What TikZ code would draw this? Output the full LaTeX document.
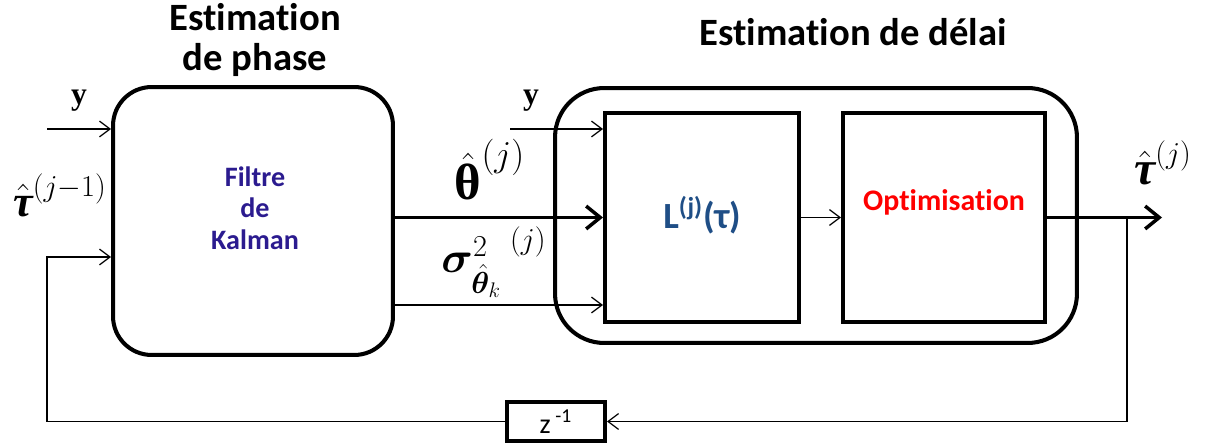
\documentclass[tikz,border=0pt]{standalone}
\usepackage{amsmath}
\usepackage{amssymb}
\usepackage{bm}
\usepackage{fontspec}
\newfontfamily\calib[Ligatures=NoCommon]{Carlito}
\newfontfamily\tnr{Liberation Serif}
\usetikzlibrary{arrows.meta}

\definecolor{kalblue}{HTML}{2B1B8F}
\definecolor{lblue}{HTML}{1F4E86}

\newcommand{\tauhat}{\boldsymbol{\hat{\text{\tnr\bfseries\itshape τ}}}}
\newcommand{\thetahat}{\boldsymbol{\hat{\text{\tnr\bfseries θ}}}}

\begin{document}
\begin{tikzpicture}[x=0.02cm, y=-0.02cm,
  blockbox/.style={draw, line width=2.3pt, inner sep=0pt},
  thinarrow/.style={line width=0.7pt, -{Straight Barb[length=6pt, width=9pt]}},
  fatarrow/.style={line width=2pt, -{Straight Barb[length=8pt, width=13pt, line width=2pt]}},
  titletext/.style={font=\calib\bfseries\fontsize{22}{26}\selectfont, align=center},
  mathlabel/.style={inner sep=0pt}]
\useasboundingbox (0,0) rectangle (1214,446);

% titles
\node[titletext] (phase) at (255,40) {Estimation\\[-3pt]de phase};
\node[titletext] (delai) at (853,32) {Estimation de délai};

% blocks
\node[blockbox, rounded corners=22pt, minimum width=5.6cm, minimum height=5.36cm] (kalman) at (253,221) {};
\node[font=\calib\bfseries\fontsize{16}{18}\selectfont, text=kalblue, align=center] (kaltext) at (255,208) {Filtre\\de\\Kalman};
\node[blockbox, rounded corners=28pt, minimum width=10.44cm, minimum height=5.1cm] (outer) at (816,215.5) {};
\node[blockbox, minimum width=3.88cm, minimum height=4.18cm] (lbox) at (702,217.5) {};
\node[font=\calib\bfseries\fontsize{21}{24}\selectfont, text=lblue] (ltext) at (702,215) {L\textsuperscript{(j)}(τ)};
\node[blockbox, minimum width=4.04cm, minimum height=4.18cm] (optbox) at (944,217.5) {};
\node[font=\calib\bfseries\fontsize{17}{20}\selectfont, text=red] (opttext) at (944,202) {Optimisation};
\node[blockbox, minimum width=1.96cm, minimum height=0.78cm, font=\calib\fontsize{16}{18}\selectfont] (zbox) at (556,421.5) {z\,\textsuperscript{-1}};

% free ends
\coordinate (yin) at (47,129);
\coordinate (fbl) at (47,257);
\coordinate (y2in) at (510,129);
\coordinate (sigy) at (0,305);
\coordinate (out) at (1162,217.5);
\coordinate (tap) at (1127,217.5);

% connectors
\draw[thinarrow] (yin) -- (yin -| kalman.west);
\draw[thinarrow] (zbox.west) -| (fbl) -- (fbl -| kalman.west);
\draw[fatarrow] (kalman.east |- lbox.west) -- (lbox.west);
\draw[thinarrow] (kalman.east |- sigy) -- (lbox.west |- sigy);
\draw[thinarrow] (y2in) -- (y2in -| lbox.west);
\draw[thinarrow] (lbox.east) -- (optbox.west);
\draw[fatarrow] (optbox.east) -- (out);
\draw[thinarrow] (tap) |- (zbox.east);

% labels
\node[mathlabel, font=\tnr\bfseries\fontsize{18}{21}\selectfont] (ylab) at (79,101) {y};
\node[mathlabel, font=\tnr\bfseries\fontsize{18}{21}\selectfont] (y2lab) at (531,101) {y};
\node[mathlabel, font=\fontsize{25}{28}\selectfont] (taulab) at (60,195) {$\tauhat^{(j-1)}$};
\node[mathlabel, font=\fontsize{29}{32}\selectfont] (thetalab) at (490,170) {$\thetahat^{(j)}$};
\node[mathlabel, font=\fontsize{25}{28}\selectfont] (siglab) at (494,262) {${\bm{\sigma}^{2}_{\hat{\bm{\theta}}_k}}^{\;(j)}$};
\node[mathlabel, font=\fontsize{27}{30}\selectfont] (tauout) at (1163,163) {$\tauhat^{(j)}$};
\end{tikzpicture}
\end{document}
